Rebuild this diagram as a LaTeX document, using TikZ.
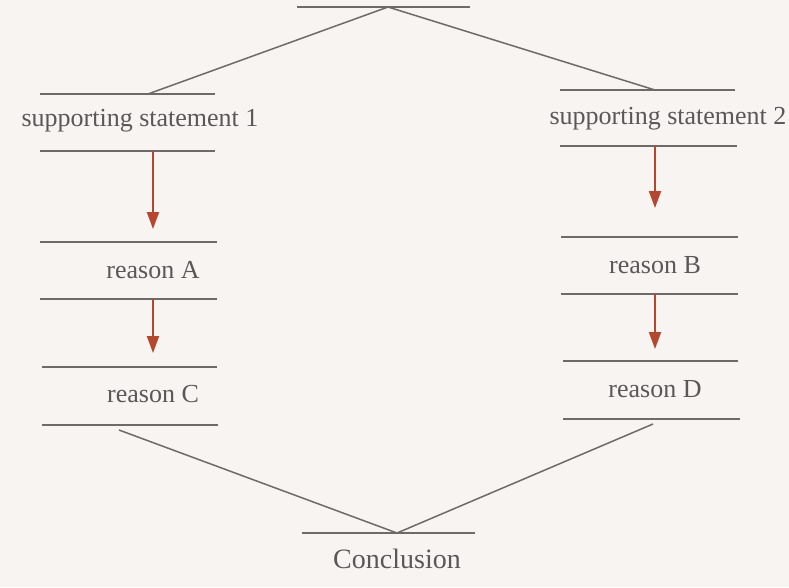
\documentclass[tikz,border=0pt]{standalone}
\usepackage{fontspec}
\setmainfont{Liberation Serif}
\usetikzlibrary{arrows.meta}
\definecolor{paper}{HTML}{F8F4F1}
\definecolor{rule}{HTML}{6E6A68}
\definecolor{ink}{HTML}{5A5857}
\definecolor{arrowred}{HTML}{B5472E}
\tikzset{
  blank/.style={draw=rule, line width=1.6pt},
  link/.style={draw=rule, line width=1.5pt},
  flow/.style={draw=arrowred, line width=2pt, -{Triangle[length=17pt,width=12pt]}},
  label/.style={text=ink, font=\fontsize{26}{30}\selectfont, inner sep=0pt},
}
\begin{document}
\begin{tikzpicture}[x=1pt,y=-1pt]
\fill[paper] (0,0) rectangle (789,587);
\useasboundingbox (0,0) rectangle (789,587);
% top blank
\draw[blank] (297,7) -- (470,7);
\coordinate (top) at (388,7);
% left column
\draw[blank] (40,94) -- (215,94);
\coordinate (l1) at (148,94);
\node[label] (s1) at (140,121) {supporting statement 1};
\draw[blank] (40,151) -- (215,151);
\coordinate (l2) at (153,151);
\coordinate (l3a) at (153,229);
\draw[blank] (40,242) -- (217,242);
\node[label] (rA) at (153,270) {reason A};
\draw[blank] (40,299) -- (217,299);
\coordinate (l4) at (153,299);
\coordinate (l5a) at (153,353);
\draw[blank] (42,367) -- (217,367);
\node[label] (rC) at (153,394) {reason C};
\draw[blank] (42,425) -- (218,425);
\coordinate (l6) at (119,430);
% right column
\draw[blank] (560,90) -- (735,90);
\coordinate (r1) at (655,90);
\node[label] (s2) at (668,119) {supporting statement 2};
\draw[blank] (560,146) -- (737,146);
\coordinate (r2) at (655,146);
\coordinate (r3a) at (655,208);
\draw[blank] (561,237) -- (738,237);
\node[label] (rB) at (655,265) {reason B};
\draw[blank] (561,294) -- (738,294);
\coordinate (r4) at (655,294);
\coordinate (r5a) at (655,349);
\draw[blank] (563,361) -- (738,361);
\node[label] (rD) at (655,389) {reason D};
\draw[blank] (563,419) -- (740,419);
\coordinate (r6) at (653,424);
% conclusion
\draw[blank] (302,533) -- (475,533);
\coordinate (bot) at (397,533);
\node[label, font=\fontsize{28}{32}\selectfont] (concl) at (397,559) {Conclusion};
% connectors
\draw[link] (top) -- (l1);
\draw[link] (top) -- (r1);
\draw[link] (l6) -- (bot);
\draw[link] (r6) -- (bot);
\draw[flow] (l2) -- (l3a);
\draw[flow] (l4) -- (l5a);
\draw[flow] (r2) -- (r3a);
\draw[flow] (r4) -- (r5a);
\end{tikzpicture}
\end{document}
